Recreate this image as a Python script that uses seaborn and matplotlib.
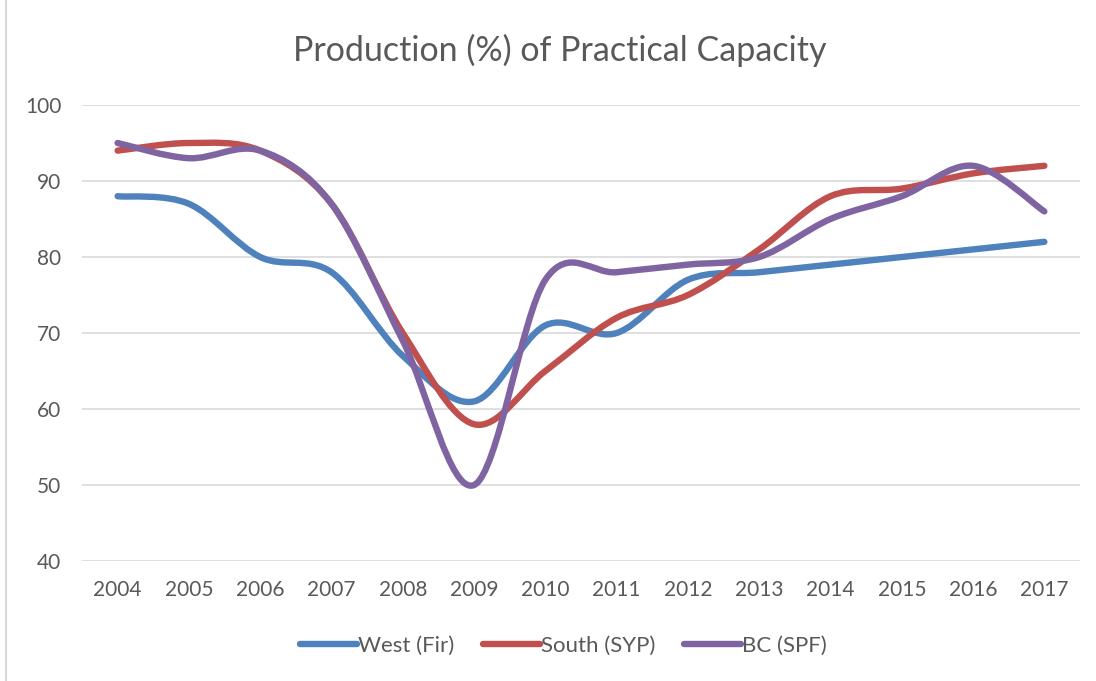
import numpy as np
import matplotlib
matplotlib.use("Agg")
import matplotlib.pyplot as plt
from matplotlib.path import Path
from matplotlib.patches import PathPatch, Rectangle
from matplotlib.lines import Line2D
import seaborn as sns

# ========== DATOS ==========
years = [2004, 2005, 2006, 2007, 2008, 2009, 2010, 2011, 2012, 2013, 2014, 2015, 2016, 2017]
west_fir = [88, 87, 80, 78, 67, 61, 71, 70, 77, 78, 79, 80, 81, 82]
south_syp = [94, 95, 94, 87, 70, 58, 65, 72, 75, 81, 88, 89, 91, 92]
bc_spf = [95, 93, 94, 87, 69, 50, 77, 78, 79, 80, 85, 88, 92, 86]
series_names = ["West (Fir)", "South (SYP)", "BC (SPF)"]
y_ticks = [40, 50, 60, 70, 80, 90, 100]

sns.set_theme(style="white")
plt.rcParams['font.family'] = ['Lato', 'DejaVu Sans']
colores = sns.color_palette(["#4F81BD", "#C0504D", "#8064A2"])
gris_texto = "#595959"
gris_linea = "#D9D9D9"


def curva_suave(xs, ys):
    # Bezier tipo Catmull-Rom (como el "suavizado" de Excel)
    pts = np.column_stack([xs, ys]).astype(float)
    n = len(pts)
    verts = [pts[0]]
    codes = [Path.MOVETO]
    for i in range(n - 1):
        p0 = pts[max(i - 1, 0)]
        p1 = pts[i]
        p2 = pts[i + 1]
        p3 = pts[min(i + 2, n - 1)]
        c1 = p1 + (p2 - p0) / 6.0
        c2 = p2 - (p3 - p1) / 6.0
        verts += [c1, c2, p2]
        codes += [Path.CURVE4] * 3
    return Path(verts, codes)


fig = plt.figure(figsize=(10.96, 6.81), dpi=100)
ax = fig.add_axes([0.0748, 0.1762, 0.9106, 0.6696])

x = np.arange(len(years))
for vals, color in zip([west_fir, south_syp, bc_spf], colores):
    patch = PathPatch(curva_suave(x, vals), facecolor="none", edgecolor=color,
                      linewidth=4.6, capstyle="round", joinstyle="round", zorder=3)
    ax.add_patch(patch)

ax.set_xlim(-0.5, len(years) - 0.5)
ax.set_ylim(40, 100)
ax.set_yticks(y_ticks)
ax.set_xticks(x)
ax.set_xticklabels([str(a) for a in years])
ax.grid(axis="y", color=gris_linea, linewidth=1.2)
ax.grid(axis="x", visible=False)
for lado in ["top", "right", "left", "bottom"]:
    ax.spines[lado].set_visible(False)
ax.tick_params(axis="y", length=0, pad=15, labelsize=15, labelcolor=gris_texto)
ax.tick_params(axis="x", length=0, pad=14, labelsize=15, labelcolor=gris_texto)

fig.text(0.511, 0.926, "Production (%) of Practical Capacity", ha="center", va="center",
         fontsize=24.5, color=gris_texto)

handles = [Line2D([0], [0], color=c, linewidth=4.6, solid_capstyle="round") for c in colores]
fig.legend(handles, series_names, loc="center", bbox_to_anchor=(0.514, 0.052), ncol=3,
           frameon=False, fontsize=16, labelcolor=gris_texto, handlelength=2.55,
           handletextpad=0.05, columnspacing=1.3)

fig.patches.append(Rectangle((0.0055, -0.01), 1.2, 1.2, transform=fig.transFigure,
                             facecolor="none", edgecolor=gris_linea, linewidth=1.5))

fig.savefig("out.png", dpi=100)
